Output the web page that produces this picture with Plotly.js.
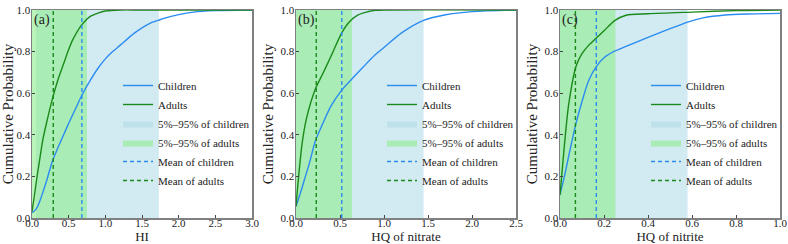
<!DOCTYPE html>
<html>
<head>
<meta charset="utf-8">
<script src="https://cdn.plot.ly/plotly-3.0.1.min.js"></script>
<style>
  html, body { margin: 0; padding: 0; background: #fff; }
  #chart { width: 788px; height: 244px; }
</style>
</head>
<body>
<div id="chart"></div>
<script>
// ---- (a) HI: cumulative probability curves ----
const hiChildX = [0, 0.05, 0.1, 0.15, 0.2, 0.28, 0.35, 0.4, 0.5, 0.6, 0.68, 0.8, 0.9, 1.0, 1.1, 1.2, 1.4, 1.6, 1.72, 1.8, 2.0, 2.2, 2.5, 3.0];
const hiChildY = [0.025, 0.04, 0.075, 0.125, 0.18, 0.275, 0.335, 0.375, 0.455, 0.53, 0.59, 0.665, 0.72, 0.765, 0.80, 0.83, 0.89, 0.935, 0.95, 0.96, 0.978, 0.99, 0.997, 1.0];
const hiAdultX = [0, 0.03, 0.065, 0.1, 0.15, 0.2, 0.28, 0.35, 0.43, 0.5, 0.56, 0.68, 0.79, 0.9, 1.0, 1.2, 1.5, 3.0];
const hiAdultY = [0.03, 0.10, 0.19, 0.27, 0.38, 0.46, 0.575, 0.66, 0.74, 0.81, 0.86, 0.93, 0.968, 0.985, 0.995, 1.0, 1.0, 1.0];

// ---- (b) HQ of nitrate ----
const no3ChildX = [0, 0.05, 0.1, 0.15, 0.22, 0.3, 0.4, 0.52, 0.65, 0.75, 0.9, 1.0, 1.2, 1.45, 1.7, 2.0, 2.5];
const no3ChildY = [0.056, 0.12, 0.19, 0.26, 0.37, 0.45, 0.54, 0.615, 0.675, 0.72, 0.785, 0.82, 0.89, 0.95, 0.977, 0.992, 1.0];
const no3AdultX = [0, 0.03, 0.07, 0.12, 0.22, 0.3, 0.4, 0.52, 0.6, 0.7, 0.8, 0.9, 1.0, 2.5];
const no3AdultY = [0.056, 0.2, 0.36, 0.48, 0.62, 0.69, 0.78, 0.89, 0.94, 0.975, 0.99, 0.998, 1.0, 1.0];

// ---- (c) HQ of nitrite ----
const no2ChildX = [0, 0.02, 0.04, 0.073, 0.1, 0.13, 0.165, 0.2, 0.25, 0.3, 0.4, 0.5, 0.58, 0.65, 0.75, 0.85, 1.0];
const no2ChildY = [0.112, 0.2, 0.3, 0.456, 0.56, 0.66, 0.728, 0.77, 0.803, 0.825, 0.868, 0.91, 0.942, 0.962, 0.976, 0.981, 0.984];
const no2AdultX = [0, 0.02, 0.04, 0.073, 0.1, 0.13, 0.165, 0.2, 0.25, 0.3, 0.4, 0.6, 0.8, 1.0];
const no2AdultY = [0.11, 0.35, 0.55, 0.73, 0.79, 0.83, 0.865, 0.9, 0.95, 0.975, 0.982, 0.99, 0.997, 1.0];

// Means and 5%–95% intervals, one entry per panel (a, b, c)
const meanChild = [0.68, 0.52, 0.165];
const meanAdult = [0.29, 0.23, 0.07];
const bandChildLo = [0.055, 0, 0];
const bandChildHi = [1.73, 1.45, 0.58];
const bandAdultLo = [0, 0, 0];
const bandAdultHi = [0.75, 0.635, 0.252];

const panelLetters = ['(a)', '(b)', '(c)'];
const xTitles = ['HI', 'HQ of nitrate', 'HQ of nitrite'];
const xMax = [3.0, 2.5, 1.0];
const xStep = [0.5, 0.5, 0.2];

const curvesX = [[hiChildX, hiAdultX], [no3ChildX, no3AdultX], [no2ChildX, no2AdultX]];
const curvesY = [[hiChildY, hiAdultY], [no3ChildY, no3AdultY], [no2ChildY, no2AdultY]];

const FONT = 'Times New Roman, Liberation Serif, DejaVu Serif, serif';
const BLUE = '#2b8cf0';
const GREEN = '#1a8a1a';
const BAND_BLUE = 'rgba(173,216,230,0.55)';
const BAND_GREEN = 'rgba(144,238,144,0.62)';

const W = 788, H = 244;
const plotLeft = [32, 296, 560];
const plotWidth = 220;
const plotTop = 10, plotBottom = 218;

const traces = [];
const layout = {
  width: W, height: H,
  margin: {l: 0, r: 0, t: 0, b: 0},
  paper_bgcolor: '#fff', plot_bgcolor: 'rgba(0,0,0,0)',
  font: {family: FONT, size: 11, color: '#222'},
  showlegend: true,
  annotations: [],
};

for (let p = 0; p < 3; p++) {
  const sfx = p === 0 ? '' : String(p + 1);
  const xa = 'x' + sfx, ya = 'y' + sfx;
  const lg = 'legend' + sfx;

  // 5%–95% bands as filled rectangles spanning the full probability range
  traces.push({
    type: 'scatter', mode: 'lines', xaxis: xa, yaxis: ya, legend: lg,
    x: [bandChildLo[p], bandChildHi[p], bandChildHi[p], bandChildLo[p], bandChildLo[p]],
    y: [0, 0, 1, 1, 0],
    fill: 'toself', fillcolor: BAND_BLUE, line: {width: 0},
    name: '5%–95% of children', legendrank: 3, hoverinfo: 'skip',
  });
  traces.push({
    type: 'scatter', mode: 'lines', xaxis: xa, yaxis: ya, legend: lg,
    x: [bandAdultLo[p], bandAdultHi[p], bandAdultHi[p], bandAdultLo[p], bandAdultLo[p]],
    y: [0, 0, 1, 1, 0],
    fill: 'toself', fillcolor: BAND_GREEN, line: {width: 0},
    name: '5%–95% of adults', legendrank: 4, hoverinfo: 'skip',
  });

  // Cumulative probability curves
  traces.push({
    type: 'scatter', mode: 'lines', xaxis: xa, yaxis: ya, legend: lg,
    x: curvesX[p][0], y: curvesY[p][0],
    line: {color: BLUE, width: 1.4, shape: 'spline', smoothing: 0.8},
    name: 'Children', legendrank: 1,
  });
  traces.push({
    type: 'scatter', mode: 'lines', xaxis: xa, yaxis: ya, legend: lg,
    x: curvesX[p][1], y: curvesY[p][1],
    line: {color: GREEN, width: 1.4, shape: 'spline', smoothing: 0.8},
    name: 'Adults', legendrank: 2,
  });

  // Mean lines
  traces.push({
    type: 'scatter', mode: 'lines', xaxis: xa, yaxis: ya, legend: lg,
    x: [meanChild[p], meanChild[p]], y: [0, 1],
    line: {color: BLUE, width: 1.4, dash: '4px,3px'},
    name: 'Mean of children', legendrank: 5,
  });
  traces.push({
    type: 'scatter', mode: 'lines', xaxis: xa, yaxis: ya, legend: lg,
    x: [meanAdult[p], meanAdult[p]], y: [0, 1],
    line: {color: GREEN, width: 1.4, dash: '4px,3px'},
    name: 'Mean of adults', legendrank: 6,
  });

  const x0 = plotLeft[p] / W, x1 = (plotLeft[p] + plotWidth) / W;
  layout['xaxis' + sfx] = {
    domain: [x0, x1], anchor: ya, range: [0, xMax[p]],
    dtick: xStep[p], tick0: 0, tickformat: '.1f',
    ticks: 'inside', ticklen: 3, tickwidth: 1, tickcolor: '#444',
    ticklabelstandoff: -6,
    showline: true, linecolor: '#808080', linewidth: 1.5, mirror: true,
    showgrid: false, zeroline: false,
    tickfont: {family: FONT, size: 11, color: '#222'},
    title: {text: xTitles[p], font: {family: FONT, size: 13, color: '#222'}, standoff: 1},
  };
  layout['yaxis' + sfx] = {
    domain: [(H - plotBottom) / H, (H - plotTop) / H], anchor: xa, range: [0, 1],
    dtick: 0.2, tick0: 0, tickformat: '.1f',
    ticks: 'inside', ticklen: 3, tickwidth: 1, tickcolor: '#444',
    ticklabelstandoff: -2,
    showline: true, linecolor: '#808080', linewidth: 1.5, mirror: true,
    showgrid: false, zeroline: false,
    tickfont: {family: FONT, size: 11, color: '#222'},
    title: {text: 'Cumulative Probability', font: {family: FONT, size: 15, color: '#222'}, standoff: 3},
  };
  layout[lg] = {
    x: (plotLeft[p] + 86) / W, xanchor: 'left',
    y: (H - 71) / H, yanchor: 'top',
    bgcolor: 'rgba(0,0,0,0)', borderwidth: 0,
    font: {family: FONT, size: 11, color: '#222'},
    itemwidth: 30, tracegroupgap: 0,
  };
  layout.annotations.push({
    text: panelLetters[p], xref: xa + ' domain', yref: ya + ' domain',
    x: 0.0, y: 1.0, xanchor: 'left', yanchor: 'top', showarrow: false,
    font: {family: FONT, size: 14, color: '#222'},
  });
}

Plotly.newPlot('chart', traces, layout, {staticPlot: true, displayModeBar: false});
</script>
</body>
</html>
